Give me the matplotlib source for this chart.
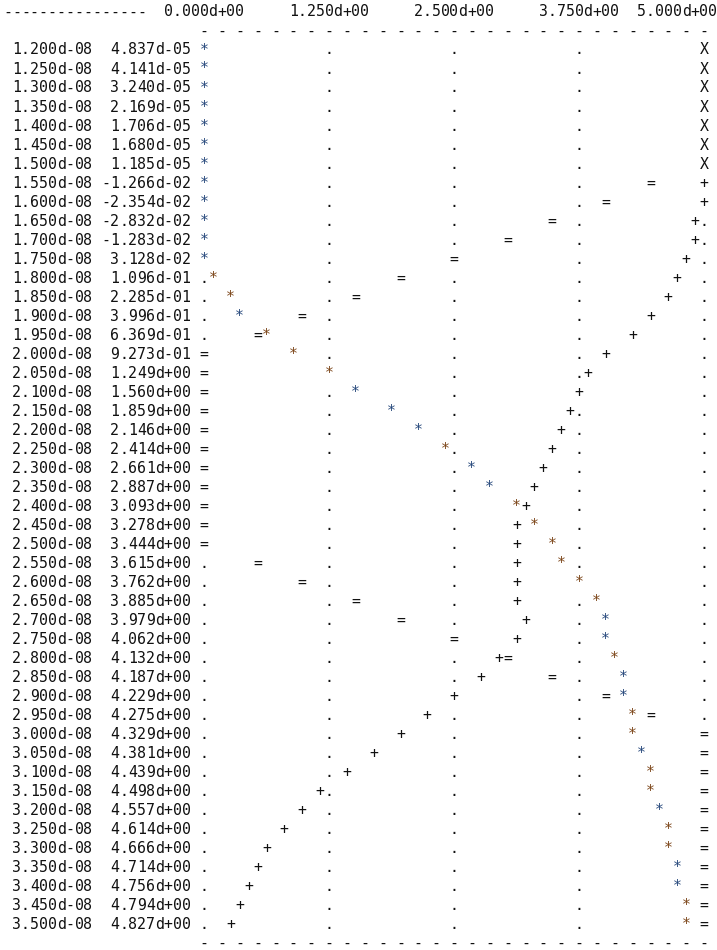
import matplotlib
matplotlib.use("Agg")
import matplotlib.pyplot as plt
import numpy as np

# row times (s), as printed in the first column
times = [1.20e-8, 1.25e-8, 1.30e-8, 1.35e-8, 1.40e-8, 1.45e-8, 1.50e-8, 1.55e-8,
         1.60e-8, 1.65e-8, 1.70e-8, 1.75e-8, 1.80e-8, 1.85e-8, 1.90e-8, 1.95e-8,
         2.00e-8, 2.05e-8, 2.10e-8, 2.15e-8, 2.20e-8, 2.25e-8, 2.30e-8, 2.35e-8,
         2.40e-8, 2.45e-8, 2.50e-8, 2.55e-8, 2.60e-8, 2.65e-8, 2.70e-8, 2.75e-8,
         2.80e-8, 2.85e-8, 2.90e-8, 2.95e-8, 3.00e-8, 3.05e-8, 3.10e-8, 3.15e-8,
         3.20e-8, 3.25e-8, 3.30e-8, 3.35e-8, 3.40e-8, 3.45e-8, 3.50e-8]

# "*" series, printed in the second column
star_vals = [4.837e-05, 4.141e-05, 3.240e-05, 2.169e-05, 1.706e-05, 1.680e-05,
             1.185e-05, -1.266e-02, -2.354e-02, -2.832e-02, -1.283e-02, 3.128e-02,
             1.096e-01, 2.285e-01, 3.996e-01, 6.369e-01, 9.273e-01, 1.249, 1.560,
             1.859, 2.146, 2.414, 2.661, 2.887, 3.093, 3.278, 3.444, 3.615, 3.762,
             3.885, 3.979, 4.062, 4.132, 4.187, 4.229, 4.275, 4.329, 4.381, 4.439,
             4.498, 4.557, 4.614, 4.666, 4.714, 4.756, 4.794, 4.827]

# "+" series
plus_vals = [5.0, 5.0, 5.0, 5.0, 5.0, 5.0, 5.0, 5.0, 5.0,
             4.911, 4.911, 4.821, 4.732, 4.643, 4.464, 4.286, 4.018, 3.839, 3.750,
             3.661, 3.571, 3.482, 3.393, 3.304, 3.214, 3.125, 3.125, 3.125, 3.125,
             3.125, 3.214, 3.125, 2.946, 2.768, 2.500, 2.232, 1.964, 1.696, 1.429,
             1.161, 0.982, 0.804, 0.625, 0.536, 0.446, 0.357, 0.268]

# "=" series
eq_vals = [5.0, 5.0, 5.0, 5.0, 5.0, 5.0, 5.0,
           4.464, 4.018, 3.482, 3.036, 2.500, 1.964, 1.518, 0.982, 0.536,
           0.0, 0.0, 0.0, 0.0, 0.0, 0.0, 0.0, 0.0, 0.0, 0.0, 0.0,
           0.536, 0.982, 1.518, 1.964, 2.500, 3.036, 3.482, 4.018, 4.464,
           5.0, 5.0, 5.0, 5.0, 5.0, 5.0, 5.0, 5.0, 5.0, 5.0, 5.0]

tick_vals = [0.0, 1.25, 2.5, 3.75, 5.0]

# line-printer layout
X_MAX = 5.0
NCOL = 56        # print columns from 0 to X_MAX
OFFSET = 22      # text column holding value 0
LINE_LEN = 80
FS = 10.68
FONT = "DejaVu Sans Mono"
INK = "#111111"


def dfmt(v):
    return f"{v:.3e}".replace("e", "d")


def to_col(v):
    c = int(np.floor(v * NCOL / X_MAX + 0.5))
    return min(max(c, 0), NCOL)


def col_x(c):
    # centre of text column c, in value units
    return (c - OFFSET) * X_MAX / NCOL


def put(ax, c0, t, s, color=INK):
    for i, ch in enumerate(s):
        if ch != " ":
            ax.text(col_x(c0 + i), t, ch, ha="center", va="baseline",
                    fontsize=FS, family=FONT, color=color)


def star_color(c):
    # subpixel tint of the asterisk glyph in the original terminal
    ph = (0.5315 * c) % 1
    return "#24467a" if (ph > 0.742 or ph < 0.215) else "#7a4316"


fig = plt.figure(figsize=(7.17, 9.5), dpi=100)
ax = fig.add_axes([0, 0, 1, 1])
ax.set_axis_off()

dt = times[1] - times[0]
ax.set_xlim(-2.04, 5.13)
ax.set_ylim(times[0] + (950 - 54.5) / 19 * dt, times[0] - 54.5 / 19 * dt)

# header with tick labels
t_head = times[0] - 2 * dt
put(ax, 0, t_head, "-" * 16)
for v in tick_vals:
    lab = dfmt(v)
    start = min(OFFSET + to_col(v) - 4, LINE_LEN - len(lab))
    put(ax, start, t_head, lab)

# dashed frame lines
for t in (times[0] - dt, times[-1] + dt):
    put(ax, OFFSET, t, " ".join(["-"] * (NCOL // 2 + 1)))

grid_cols = [to_col(v) for v in tick_vals]

for t, s, p, e in zip(times, star_vals, plus_vals, eq_vals):
    put(ax, 0, t, f" {dfmt(t)} {dfmt(s):>10}")
    cells = {c: "." for c in grid_cols}
    taken = set()
    for sym, v in (("*", s), ("+", p), ("=", e)):
        c = to_col(v)
        cells[c] = "X" if c in taken else sym
        taken.add(c)
    for c, ch in cells.items():
        col = star_color(c) if ch == "*" else INK
        ax.text(col_x(OFFSET + c), t, ch, ha="center", va="baseline",
                fontsize=FS, family=FONT, color=col)

fig.savefig("out.png", dpi=100)
